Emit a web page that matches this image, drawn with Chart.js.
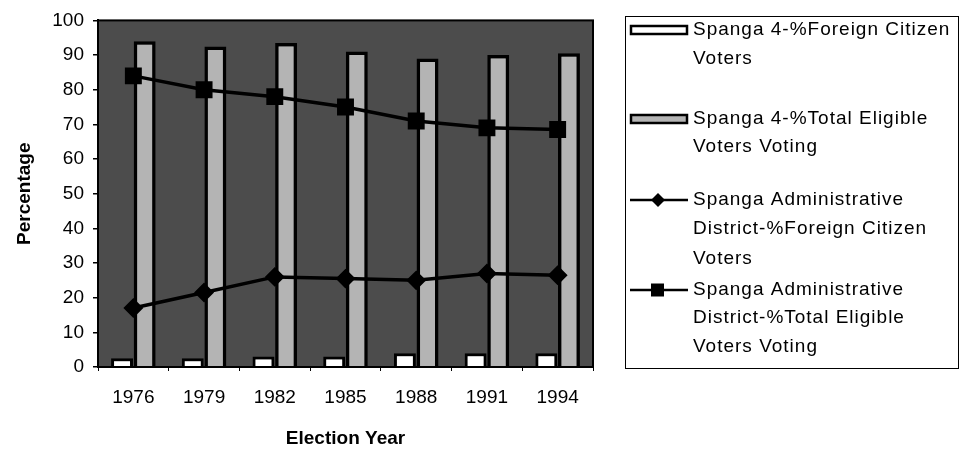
<!DOCTYPE html>
<html>
<head>
<meta charset="utf-8">
<script src="https://cdn.jsdelivr.net/npm/chart.js@4.4.0/dist/chart.umd.min.js"></script>
<style>
  html, body { margin: 0; padding: 0; background: #fff; }
</style>
</head>
<body>
<canvas id="voteChart" width="962" height="453"></canvas>
<script>
const years = ['1976', '1979', '1982', '1985', '1988', '1991', '1994'];
const district4Foreign = [2.5, 2.5, 3, 3, 4, 4, 4];
const district4Total = [94, 92.5, 93.5, 91, 89, 90, 90.5];
const adminForeign = [17, 21.5, 26, 25.5, 25, 27, 26.5];
const adminTotal = [84, 80, 78, 75, 71, 69, 68.5];
const seriesNames = [
    ['Spanga 4-%Foreign Citizen', 'Voters'],
    ['Spanga 4-%Total Eligible', 'Voters Voting'],
    ['Spanga Administrative', 'District-%Foreign Citizen', 'Voters'],
    ['Spanga Administrative', 'District-%Total Eligible', 'Voters Voting']
];

const FONT = '"Liberation Sans", Arial, sans-serif';
const BAR_GRAY = '#b4b4b4';

// grey plot area with a frame round it
const plotFrame = {
    id: 'plotFrame',
    beforeDraw(chart) {
        const {ctx, chartArea: a} = chart;
        ctx.save();
        ctx.fillStyle = '#4c4c4c';
        ctx.fillRect(a.left, a.top, a.right - a.left, a.bottom - a.top);
        ctx.restore();
    },
    afterDatasetsDraw(chart) {
        const {ctx, chartArea: a} = chart;
        ctx.save();
        ctx.strokeStyle = '#000';
        ctx.lineWidth = 2;
        ctx.strokeRect(a.left, a.top, a.right - a.left, a.bottom - a.top);
        ctx.restore();
    }
};

// legend on the right, labels wrap over several lines
const sideLegend = {
    id: 'sideLegend',
    afterDraw(chart) {
        const ctx = chart.ctx;
        const rows = [[30, 59], [119, 147], [200, 229, 259], [290, 318, 347]];
        const kinds = ['box', 'box', 'diamond', 'square'];
        const fills = ['#fff', BAR_GRAY];
        ctx.save();
        ctx.strokeStyle = '#000';
        ctx.lineWidth = 1;
        ctx.strokeRect(625.5, 16.5, 333, 352);
        ctx.fillStyle = '#000';
        ctx.font = '19px ' + FONT;
        ctx.letterSpacing = '1px';
        ctx.textBaseline = 'middle';
        seriesNames.forEach((lines, i) => {
            const y = rows[i][0];
            if (kinds[i] === 'box') {
                ctx.fillStyle = fills[i];
                ctx.fillRect(631, y - 4, 56, 8);
                ctx.lineWidth = 2.5;
                ctx.strokeRect(631, y - 4, 56, 8);
            } else {
                ctx.lineWidth = 2.5;
                ctx.beginPath();
                ctx.moveTo(630, y);
                ctx.lineTo(688, y);
                ctx.stroke();
                ctx.fillStyle = '#000';
                ctx.beginPath();
                if (kinds[i] === 'diamond') {
                    ctx.moveTo(658, y - 7);
                    ctx.lineTo(665, y);
                    ctx.lineTo(658, y + 7);
                    ctx.lineTo(651, y);
                } else {
                    ctx.rect(651, y - 6.5, 13, 13);
                }
                ctx.fill();
            }
            ctx.fillStyle = '#000';
            lines.forEach((t, j) => ctx.fillText(t, 693, rows[i][j]));
        });
        ctx.restore();
    }
};

const ctx = document.getElementById('voteChart').getContext('2d');
new Chart(ctx, {
    data: {
        labels: years,
        datasets: [
            {
                type: 'line',
                label: seriesNames[2].join(' '),
                data: adminForeign,
                borderColor: '#000',
                borderWidth: 3.5,
                pointStyle: 'rectRot',
                pointRadius: 7.5,
                pointBackgroundColor: '#000',
                pointBorderColor: '#000',
                tension: 0,
                order: 0
            },
            {
                type: 'line',
                label: seriesNames[3].join(' '),
                data: adminTotal,
                borderColor: '#000',
                borderWidth: 3.5,
                pointStyle: 'rect',
                pointRadius: 9.5,
                pointBackgroundColor: '#000',
                pointBorderColor: '#000',
                tension: 0,
                order: 0
            },
            {
                type: 'bar',
                label: seriesNames[0].join(' '),
                data: district4Foreign,
                backgroundColor: '#fff',
                borderColor: '#000',
                borderWidth: 3,
                categoryPercentage: 0.64,
                barPercentage: 0.97,
                order: 1
            },
            {
                type: 'bar',
                label: seriesNames[1].join(' '),
                data: district4Total,
                backgroundColor: BAR_GRAY,
                borderColor: '#000',
                borderWidth: 3.5,
                categoryPercentage: 0.64,
                barPercentage: 0.97,
                order: 1
            }
        ]
    },
    options: {
        responsive: false,
        animation: false,
        layout: {padding: {left: 10, top: 19, right: 369, bottom: 0}},
        plugins: {
            legend: {display: false},
            tooltip: {enabled: false}
        },
        scales: {
            x: {
                ticks: {color: '#000', font: {family: FONT, size: 19}, padding: 15, maxRotation: 0},
                grid: {drawOnChartArea: false, color: '#000', tickLength: 4, offset: true},
                border: {color: '#000', width: 2},
                title: {
                    display: true,
                    text: 'Election Year',
                    color: '#000',
                    font: {family: FONT, size: 19, weight: 'bold'},
                    padding: {top: 0, bottom: 3}
                },
                afterFit(scale) { scale.height = 86; }
            },
            y: {
                min: 0,
                max: 100,
                ticks: {stepSize: 10, color: '#000', font: {family: FONT, size: 19}, padding: 9},
                grid: {drawOnChartArea: false, color: '#000', tickLength: 5, lineWidth: 1.5},
                border: {color: '#000', width: 2},
                title: {
                    display: true,
                    text: 'Percentage',
                    color: '#000',
                    font: {family: FONT, size: 19, weight: 'bold'},
                    padding: {top: 3, bottom: 0}
                },
                afterFit(scale) { scale.width = 88; }
            }
        }
    },
    plugins: [plotFrame, sideLegend]
});
</script>
</body>
</html>
